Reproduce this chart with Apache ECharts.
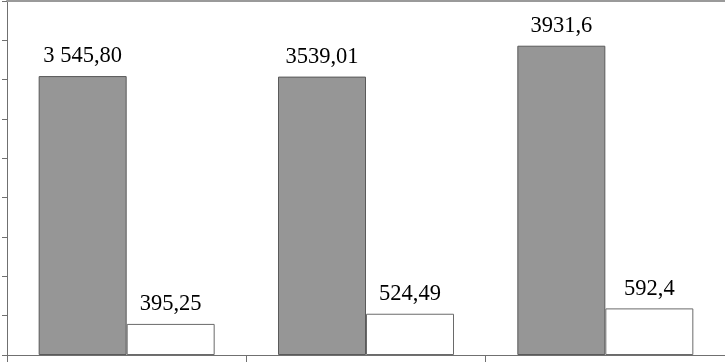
<!DOCTYPE html>
<html><head><meta charset="utf-8">
<script src="https://cdn.jsdelivr.net/npm/echarts@6/dist/echarts.min.js"></script>
<style>html,body{margin:0;padding:0;background:#fff}#c{width:725px;height:362px}</style>
</head><body><div id="c"></div>
<script>
const categories = ['1', '2', '3'];
const seriesA = [3545.80, 3539.01, 3931.6];
const seriesB = [395.25, 524.49, 592.4];
const labelsA = ['3 545,80', '3539,01', '3931,6'];
const labelsB = ['395,25', '524,49', '592,4'];
const yTicks = [0, 500, 1000, 1500, 2000, 2500, 3000, 3500, 4000, 4500];

const chart = echarts.init(document.getElementById('c'), null, {renderer: 'canvas'});
const labelStyle = {show: true, position: 'top', distance: 8, color: '#000',
  fontFamily: 'Liberation Serif', fontSize: 22.5};
chart.setOption({
  animation: false,
  grid: {left: 7, right: 0, top: 1, bottom: 7},
  xAxis: [{
    type: 'category', data: categories,
    axisLine: {lineStyle: {color: '#707070', width: 1}},
    axisTick: {show: true, length: 7, lineStyle: {color: '#707070'}},
    axisLabel: {show: false}
  }, {
    type: 'category', data: categories, position: 'top',
    axisLine: {show: true, lineStyle: {color: '#9a9a9a', width: 2}},
    axisTick: {show: false}, axisLabel: {show: false}
  }],
  yAxis: {
    type: 'value', min: yTicks[0], max: yTicks[yTicks.length - 1], interval: 500,
    axisLine: {show: true, lineStyle: {color: '#707070'}},
    axisTick: {show: true, length: 5, lineStyle: {color: '#707070'}},
    axisLabel: {show: false}, splitLine: {show: false}
  },
  series: [{
    type: 'bar', data: seriesA, barWidth: 88, barGap: '0%',
    itemStyle: {color: '#969696', borderColor: '#5a5a5a', borderWidth: 1},
    label: Object.assign({}, labelStyle, {formatter: p => labelsA[p.dataIndex]})
  }, {
    type: 'bar', data: seriesB, barWidth: 88,
    itemStyle: {color: '#ffffff', borderColor: '#6a6a6a', borderWidth: 1},
    label: Object.assign({}, labelStyle, {formatter: p => labelsB[p.dataIndex]})
  }]
});
</script></body></html>
